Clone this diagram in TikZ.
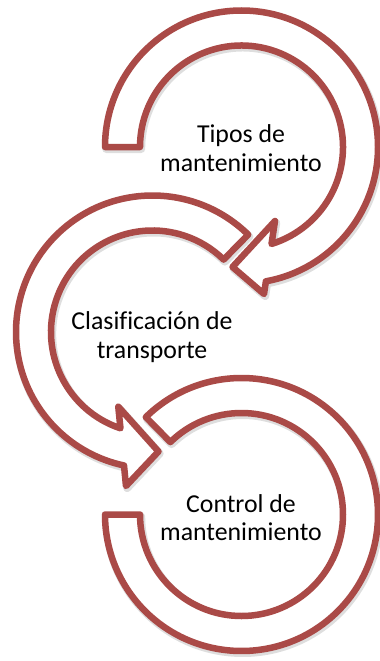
\documentclass[tikz,border=0pt]{standalone}
\usepackage{fontspec}
\setmainfont{Carlito}[Ligatures=NoCommon]
\usetikzlibrary{calc}
\definecolor{arrowred}{RGB}{170,74,71}
\tikzset{
  bendarrow/.style={draw=arrowred, fill=white, line width=6.5pt, line join=round,
    preaction={draw=black, line width=8pt, line join=round, opacity=0.13,
      transform canvas={xshift=1.2pt, yshift=-2pt}}},
  steptext/.style={font=\fontsize{25.8}{28.5}\selectfont, align=center, text=black, inner sep=0pt}
}
\begin{document}
\begin{tikzpicture}[x=1pt,y=1pt]
\useasboundingbox[fill=white] (0,0) rectangle (380,-661);
\coordinate (c1) at (241.5,-147);
\coordinate (c2) at (152.5,-332);
\coordinate (c3) at (241.5,-514.5);
% shape 3 (bottom ring)
\path[bendarrow] ($(c3)+(134.5:136.5)$) arc[start angle=134.5, end angle=-180, radius=136.5]
  -- ($(c3)+(-180:101.5)$) arc[start angle=-180, end angle=134.5, radius=101.5] -- cycle;
% shape 2 (middle arrow)
\path[bendarrow] ($(c2)+(45.5:136.5)$) arc[start angle=45.5, end angle=257.95, radius=136.5]
  -- ($(c2)+(-26.5,-154)$) -- ($(c2)+(6,-119.5)$) -- ($(c2)+(-34.2,-74.7)$)
  -- ($(c2)+(251.6:101.5)$) arc[start angle=251.6, end angle=45.5, radius=101.5] -- cycle;
% shape 1 (top arrow)
\path[bendarrow] ($(c1)+(180:136.5)$) arc[start angle=180, end angle=-79.7, radius=136.5]
  -- ($(c1)+(22.5,-147)$) -- ($(c1)+(-9,-120)$) -- ($(c1)+(33.5,-74)$)
  -- ($(c1)+(-72.8:101.5)$) arc[start angle=-72.8, end angle=180, radius=101.5] -- cycle;
\node[steptext] (t1) at (241,-148) {Tipos de\\mantenimiento};
\node[steptext] (t2) at (152,-337) {Clasificación de\\transporte};
\node[steptext] (t3) at (241,-517.5) {Control de\\mantenimiento};
\end{tikzpicture}
\end{document}
